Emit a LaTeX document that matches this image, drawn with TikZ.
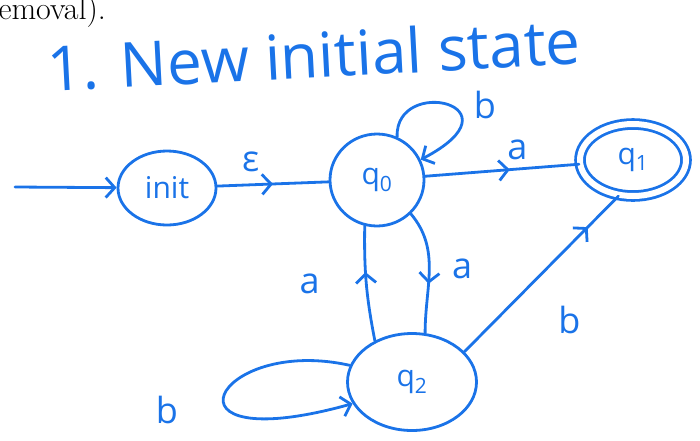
\documentclass[tikz,border=0pt]{standalone}
\usepackage{fontspec}
\newfontfamily\handfont{Open Sans}
\usetikzlibrary{shapes.geometric,arrows.meta,decorations.markings}
\definecolor{ink}{RGB}{26,115,232}

\tikzset{
    >={Straight Barb[length=9pt,width=20pt]},
    state/.style={draw=ink, line width=2.8pt, ellipse, inner sep=0pt, text=ink,
        font=\handfont\fontsize{30}{30}\selectfont},
    edge/.style={draw=ink, line width=2.8pt, line cap=round},
    midarrow/.style={postaction={decorate},
        decoration={markings, mark=at position #1 with {\arrow{>}}}},
    elabel/.style={text=ink, font=\handfont\fontsize{36}{36}\selectfont}
}

\begin{document}
\begin{tikzpicture}[x=1pt, y=-1pt]
    \useasboundingbox (0,0) rectangle (700,440);
    \node[anchor=base west, font=\fontsize{32}{32}\selectfont] (prev) at (-5,19) {emoval).};
    \node[anchor=base west, text=ink, font=\handfont\fontsize{62}{62}\selectfont, rotate=3] (title) at (45,92) {1. New initial state};

    \node[state, minimum width=98pt, minimum height=74pt] (init) at (167,188) {init};
    \node[state, minimum width=94pt, minimum height=92pt] (q0) at (377,180) {q\textsubscript{0}};
    \node[state, double=white, double distance=6pt, minimum width=106pt, minimum height=72pt] (q1) at (633,160) {q\textsubscript{1}};
    \node[state, minimum width=129pt, minimum height=97pt] (q2) at (412,382) {q\textsubscript{2}};
    \coordinate (start) at (15,187);

    \draw[edge, ->] (start) -- (init);
    \draw[edge, midarrow=0.5] (init) -- (q0) node[elabel, pos=0.3, above=8pt] {ε};
    \draw[edge, midarrow=0.55] (q0) -- (q1) node[elabel, pos=0.6, above=4pt] {a};
    \draw[edge, ->] (q0.65) .. controls (395,75) and (525,105) .. (q0.25) node[elabel, pos=0.5, right=22pt] {b};
    \draw[edge, midarrow=0.6] (q0.-45) to[out=-50, in=90] node[elabel, pos=0.5, right=18pt] {a} (q2.75);
    \draw[edge, midarrow=0.6] (q2.132) to[bend left=6] node[elabel, pos=0.5, left=42pt] {a} (q0.-105);
    \draw[edge, midarrow=0.8] (q2.30) -- (q1.-112) node[elabel, pos=0.45, below right=20pt] {b};
    \draw[edge, ->] (q2.165) .. controls (215,335) and (150,460) .. (q2.-160) node[elabel, pos=0.5, left=42pt, yshift=-16pt] {b};
\end{tikzpicture}
\end{document}
